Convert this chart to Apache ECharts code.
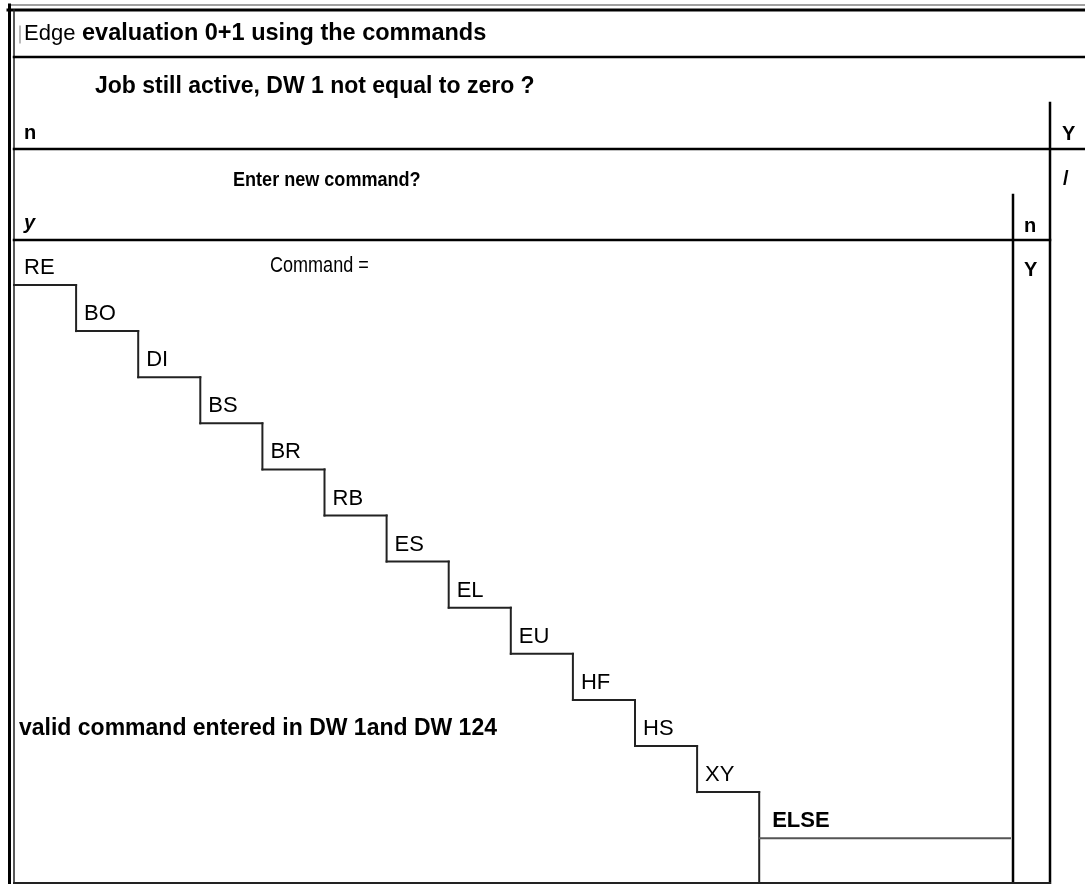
<!DOCTYPE html>
<html>
<head>
<meta charset="utf-8">
<script src="https://cdn.jsdelivr.net/npm/echarts@6/dist/echarts.min.js"></script>
<style>
html,body{margin:0;padding:0;background:#fff;}
#chart{width:1085px;height:884px;}
</style>
</head>
<body>
<div id="chart"></div>
<script>
// ---------- DATA (texts of the structogram) ----------
const titleNormal = 'Edge';
const titleBold = 'evaluation 0+1 using the commands';
const condition1 = 'Job still active, DW 1 not equal to zero ?';
const condition1Branches = ['n', 'Y'];
const condition2 = 'Enter new command?';
const condition2Branches = ['y', 'n'];
const slashLabel = '/';
const caseLabel = 'Command =';
const caseOtherBranch = 'Y';
const commands = ['RE', 'BO', 'DI', 'BS', 'BR', 'RB', 'ES', 'EL', 'EU', 'HF', 'HS', 'XY', 'ELSE'];
const actionText = 'valid command entered in DW 1and DW 124';

// ---------- LAYOUT (diagram geometry in axis units) ----------
const L = {
  W: 1085, H: 884,
  left: 14, right: 1085,
  rowHeader: 57, rowCond1: 149, rowCond2: 240, bottom: 883,
  colOuter: 1050, colOuterTop: 103,
  colInner: 1013, colInnerTop: 195,
  stairX0: 14, stairY0: 285, stepW: 62.1, stepH: 46.1, elseRight: 1010
};
const FONT = "'Liberation Sans', Arial, Helvetica, sans-serif";

// frame segments [x1,y1,x2,y2,width,color]
const segs = [
  [10, 5, L.right, 5, 1.5, '#808080'],
  [8, 10, L.right, 10, 3, '#000'],
  [9.5, 5, 9.5, L.H, 3, '#000'],
  [14, 10, 14, L.H, 1.5, '#222'],
  [20, 26, 20, 43, 1, '#777'],
  [L.left, L.rowHeader, L.right, L.rowHeader, 2.5, '#000'],
  [L.left, L.rowCond1, L.right, L.rowCond1, 2.5, '#000'],
  [L.colOuter, L.colOuterTop, L.colOuter, L.H, 2.5, '#000'],
  [L.left, L.rowCond2, L.colOuter, L.rowCond2, 2.5, '#000'],
  [L.colInner, L.colInnerTop, L.colInner, L.H, 2.5, '#000'],
  [L.left, L.bottom, L.colOuter, L.bottom, 2, '#222']
];
// staircase of the case statement, derived from the command list
const n = commands.length;
const sx = i => L.stairX0 + i * L.stepW;
const sy = i => L.stairY0 + i * L.stepH;
for (let i = 0; i < n - 1; i++) {
  segs.push([sx(i), sy(i), sx(i + 1), sy(i), 2, '#222']);
  const yEnd = (i === n - 2) ? L.H : sy(i + 1);
  segs.push([sx(i + 1), sy(i), sx(i + 1), yEnd, 2, '#222']);
}
segs.push([sx(n - 1), sy(n - 1), L.elseRight, sy(n - 1), 2, '#555']);

// text items
const texts = [];
texts.push({x: 24, y: 34, rich: true});
texts.push({x: 95, y: 87, t: condition1, bold: true, size: 23});
texts.push({x: 24, y: 133, t: condition1Branches[0], bold: true, size: 20});
texts.push({x: 1062, y: 134, t: condition1Branches[1], bold: true, size: 20});
texts.push({x: 233, y: 180, t: condition2, bold: true, size: 21, sx: 0.86});
texts.push({x: 1063, y: 179, t: slashLabel, bold: true, size: 20});
texts.push({x: 24, y: 223, t: condition2Branches[0], bold: true, size: 20, italic: true});
texts.push({x: 1024, y: 226, t: condition2Branches[1], bold: true, size: 20});
texts.push({x: 270, y: 266, t: caseLabel, bold: false, size: 22, sx: 0.82});
texts.push({x: 1024, y: 270, t: caseOtherBranch, bold: true, size: 20});
texts.push({x: 19, y: 729, t: actionText, bold: true, size: 23});
commands.forEach((c, i) => {
  texts.push({
    x: (i === 0 ? sx(0) + 10 : sx(i) + (c === 'ELSE' ? 13 : 8)),
    y: sy(i) - 17,
    t: c,
    bold: c === 'ELSE',
    size: 22
  });
});

const chart = echarts.init(document.getElementById('chart'), null, {renderer: 'canvas'});
chart.setOption({
  animation: false,
  backgroundColor: '#fff',
  grid: {left: 0, right: 0, top: 0, bottom: 0},
  xAxis: {type: 'value', min: 0, max: L.W, show: false},
  yAxis: {type: 'value', min: 0, max: L.H, inverse: true, show: false},
  series: [
    {
      type: 'custom',
      clip: false,
      silent: true,
      data: segs.map(s => [s[0], s[1], s[2], s[3]]),
      renderItem: function (params, api) {
        const s = segs[params.dataIndex];
        const p1 = api.coord([api.value(0), api.value(1)]);
        const p2 = api.coord([api.value(2), api.value(3)]);
        return {
          type: 'line',
          shape: {x1: p1[0], y1: p1[1], x2: p2[0], y2: p2[1]},
          style: {stroke: s[5], lineWidth: s[4], lineCap: 'square'}
        };
      }
    },
    {
      type: 'custom',
      clip: false,
      silent: true,
      data: texts.map(t => [t.x, t.y]),
      renderItem: function (params, api) {
        const t = texts[params.dataIndex];
        const p = api.coord([api.value(0), api.value(1)]);
        if (t.rich) {
          return {
            type: 'text',
            x: p[0], y: p[1],
            style: {
              text: '{a|' + titleNormal + '}  {b|' + titleBold + '}',
              verticalAlign: 'middle', align: 'left',
              rich: {
                a: {fontFamily: FONT, fontSize: 22, fontWeight: 'normal', fill: '#000'},
                b: {fontFamily: FONT, fontSize: 23.5, fontWeight: 'bold', fill: '#000'}
              }
            }
          };
        }
        return {
          type: 'text',
          x: p[0], y: p[1],
          scaleX: t.sx || 1,
          style: {
            text: t.t,
            fill: '#000',
            font: (t.italic ? 'italic ' : '') + (t.bold ? 'bold ' : '') + t.size + 'px ' + FONT,
            align: 'left',
            verticalAlign: 'middle'
          }
        };
      }
    }
  ]
});
</script>
</body>
</html>
